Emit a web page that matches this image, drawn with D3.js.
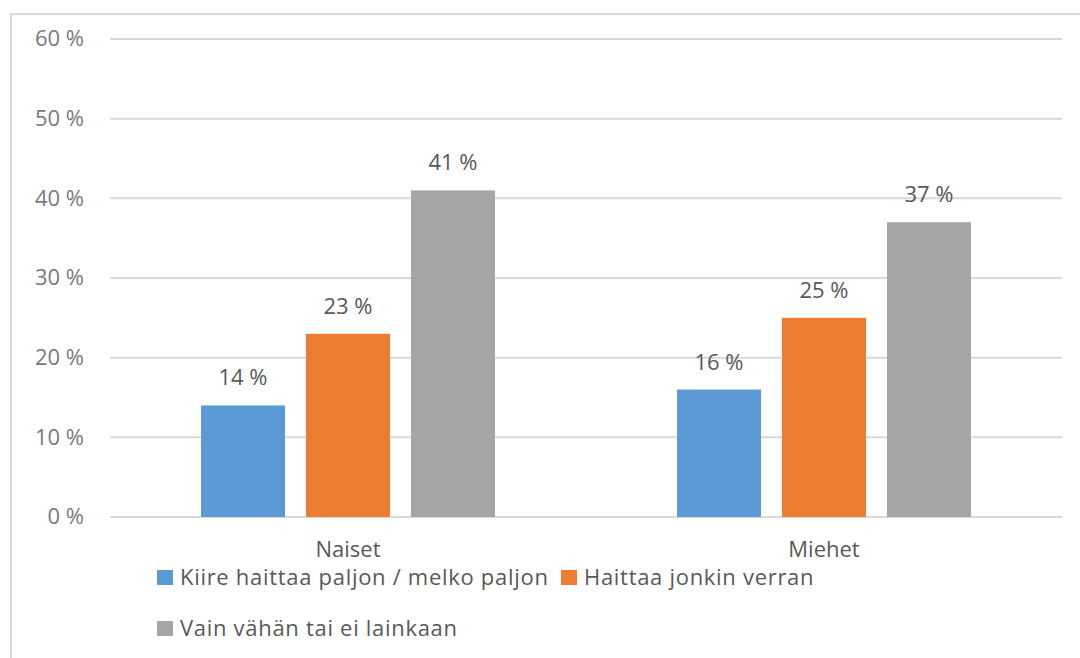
<!DOCTYPE html>
<html>
<head>
<meta charset="utf-8">
<script src="https://cdn.jsdelivr.net/npm/d3@7.9.0/dist/d3.min.js"></script>
<style>
  body { margin: 0; background: #fff; }
  svg { display: block; font-family: 'Open Sans', sans-serif; }
</style>
</head>
<body>
<svg width="1080" height="658"></svg>
<script>
const categories = ['Naiset', 'Miehet'];
const seriesNames = ['Kiire haittaa paljon / melko paljon', 'Haittaa jonkin verran', 'Vain vähän tai ei lainkaan'];
const seriesColors = ['#5b9bd5', '#ed7d31', '#a5a5a5'];
const values = [
  [14, 23, 41],  // Naiset
  [16, 25, 37]   // Miehet
];
const yTicks = [0, 10, 20, 30, 40, 50, 60];

let svg = d3.select('svg');

// chart frame (cropped at right and bottom)
svg.append('rect')
  .attr('x', 11).attr('y', 14)
  .attr('width', 1100).attr('height', 700)
  .attr('fill', 'none')
  .attr('stroke', '#d9d9d9')
  .attr('stroke-width', 2);

let x0 = d3.scaleBand().domain(categories).range([110, 1062]).padding(0);
let x1 = d3.scaleBand().domain(d3.range(seriesNames.length))
  .range([0, x0.bandwidth()])
  .paddingInner(0.2).paddingOuter(0.867);
let y = d3.scaleLinear().domain([0, 60]).range([517, 39]);

// gridlines
svg.append('g')
  .selectAll('line')
  .data(yTicks)
  .join('line')
  .attr('x1', 110).attr('x2', 1062)
  .attr('y1', d => y(d)).attr('y2', d => y(d))
  .attr('stroke', '#d9d9d9')
  .attr('stroke-width', 2);

// y tick labels
svg.append('g')
  .selectAll('text')
  .data(yTicks)
  .join('text')
  .attr('x', 84)
  .attr('y', d => y(d))
  .attr('dy', '0.33em')
  .attr('text-anchor', 'end')
  .attr('font-size', 22)
  .attr('fill', '#7a7a7a')
  .text(d => `${d} %`);

// bars + labels
let groups = svg.append('g')
  .selectAll('g')
  .data(categories)
  .join('g')
  .attr('transform', d => `translate(${x0(d)},0)`);

groups.selectAll('rect')
  .data((d, i) => values[i].map((v, j) => ({ v, j })))
  .join('rect')
  .attr('x', d => x1(d.j))
  .attr('width', x1.bandwidth())
  .attr('y', d => y(d.v))
  .attr('height', d => y(0) - y(d.v))
  .attr('fill', d => seriesColors[d.j]);

groups.selectAll('text')
  .data((d, i) => values[i].map((v, j) => ({ v, j })))
  .join('text')
  .attr('x', d => x1(d.j) + x1.bandwidth() / 2)
  .attr('y', d => y(d.v) - 20)
  .attr('text-anchor', 'middle')
  .attr('font-size', 22)
  .attr('fill', '#595959')
  .text(d => `${d.v} %`);

// category labels
svg.append('g')
  .selectAll('text')
  .data(categories)
  .join('text')
  .attr('x', d => x0(d) + x0.bandwidth() / 2)
  .attr('y', 557)
  .attr('text-anchor', 'middle')
  .attr('font-size', 22)
  .attr('fill', '#595959')
  .text(d => d);

// legend
const legendPos = [[157, 570], [561, 570], [157, 621]];
let legend = svg.append('g')
  .selectAll('g')
  .data(seriesNames)
  .join('g')
  .attr('transform', (d, i) => `translate(${legendPos[i][0]},${legendPos[i][1]})`);

legend.append('rect')
  .attr('width', 16).attr('height', 15)
  .attr('fill', (d, i) => seriesColors[i]);

legend.append('text')
  .attr('x', 23)
  .attr('y', 15)
  .attr('font-size', 22)
  .attr('letter-spacing', 0.7)
  .attr('fill', '#595959')
  .text(d => d);
</script>
</body>
</html>
